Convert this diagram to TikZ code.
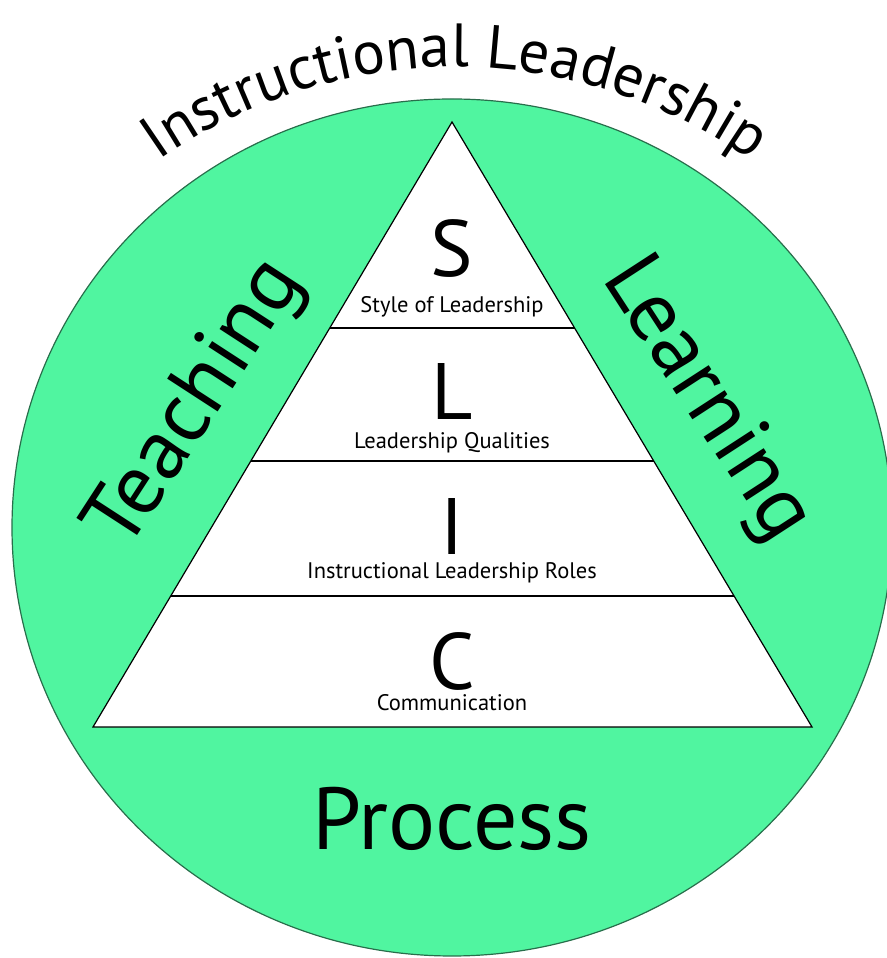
\documentclass[tikz,border=0pt]{standalone}
\usepackage{fontspec}
\setmainfont{PT Sans}
\usetikzlibrary{calc,decorations.text}
\definecolor{ringgreen}{RGB}{80,245,160}
\definecolor{ringedge}{RGB}{40,110,75}

\newcommand{\bigletter}{\fontsize{80}{80}\selectfont}
\newcommand{\capfont}{\fontsize{22.5}{24}\selectfont}
\newcommand{\sidefont}{\fontsize{86}{86}\selectfont}
\newcommand{\arcfont}{\fontsize{61}{64}\selectfont}

\begin{document}
\begin{tikzpicture}[
    x=1pt, y=1pt,
    ring/.style={fill=ringgreen, draw=ringedge, line width=1.2pt},
    pyramid/.style={fill=white, draw=black, line width=1.2pt},
    tier/.style={draw=black, line width=1.2pt},
    letter/.style={anchor=base, inner sep=0pt, font=\bigletter},
    caption/.style={anchor=base, inner sep=0pt, font=\capfont},
    side/.style={inner sep=0pt, font=\sidefont}
]
\useasboundingbox (0,0) rectangle (886,958);

% Ring
\draw[ring] (452,430.5) ellipse [x radius=440, y radius=428.5];

% Pyramid
\coordinate (apex) at (452,836);
\coordinate (bl) at (93,231);
\coordinate (br) at (812,231);
\draw[pyramid] (apex) -- (bl) -- (br) -- cycle;
\foreach \f in {0.3405,0.5603,0.7835}
    \draw[tier] ($(apex)!\f!(bl)$) -- ($(apex)!\f!(br)$);

% Tiers
\node[letter] (sletter) at (452,681) {S};
\node[caption] (style) at (452,645) {Style of Leadership};
\node[letter] (lletter) at (452,538) {L};
\node[caption] (qualities) at (452,509) {Leadership Qualities};
\node[letter] (iletter) at (452,403) {I};
\node[caption] (roles) at (452,379) {Instructional Leadership Roles};
\node[letter] (cletter) at (452,268) {C};
\node[caption] (comm) at (452,247) {Communication};

% Ring labels
\node[side, rotate=57] (teaching) at (197,553) {Teaching};
\node[side, rotate=-57] (learning) at (706,558) {Learning};
\node[letter, font=\fontsize{88}{88}\selectfont] (process) at (452,108) {Process};

% Title along the arc
\coordinate (arccentre) at (455,376);
\path[decorate, decoration={text along path, text align=center,
      text={|\arcfont|Instructional Leadership}}]
    ($(arccentre)+(126:515)$) arc[start angle=126, end angle=54, radius=515];
\end{tikzpicture}
\end{document}
